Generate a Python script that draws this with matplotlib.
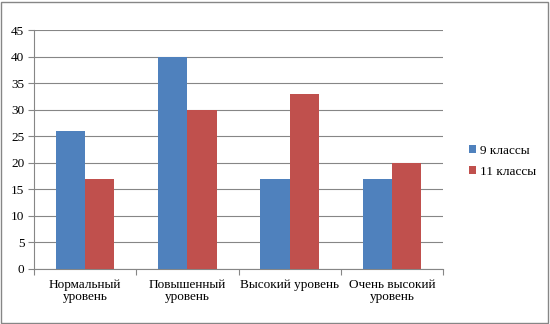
import matplotlib.pyplot as plt
import numpy as np
from matplotlib.patches import Rectangle

plt.rcParams['font.family'] = ['Liberation Serif', 'DejaVu Serif']

categories = ["Нормальный\nуровень", "Повышенный\nуровень", "Высокий уровень", "Очень высокий\nуровень"]
grade9 = [26, 40, 17, 17]
grade11 = [17, 30, 33, 20]
series_names = ["9 классы", "11 классы"]

blue = "#4F81BD"
red = "#C0504D"
grid_col = "#868686"

fig = plt.figure(figsize=(5.5, 3.24), dpi=100)
ax = fig.add_axes([0.0618, 0.1698, 0.7437, 0.7376])

x = np.arange(len(categories))
w = 0.285
b1 = ax.bar(x - w/2, grade9, w, color=blue, label=series_names[0], zorder=3)
b2 = ax.bar(x + w/2, grade11, w, color=red, label=series_names[1], zorder=3)

ax.set_xlim(-0.5, len(categories) - 0.5)
ax.set_ylim(0, 45)
ax.set_yticks(range(0, 46, 5))
ax.yaxis.grid(True, color=grid_col, linewidth=0.8, zorder=0)
ax.set_axisbelow(True)

ax.set_xticks(x)
ax.set_xticklabels(categories, fontsize=9.5, linespacing=1.05)
ax.set_xticks(np.arange(-0.5, len(categories)), minor=True)
ax.tick_params(axis='x', which='major', length=0, pad=7)
ax.tick_params(axis='x', which='minor', length=4, color=grid_col, width=0.8)
ax.tick_params(axis='y', length=4, color=grid_col, width=0.8, labelsize=9.5, pad=3)

for s in ['top', 'right']:
    ax.spines[s].set_visible(False)
for s in ['left', 'bottom']:
    ax.spines[s].set_color(grid_col)
    ax.spines[s].set_linewidth(0.8)

ax.legend(loc='center left', bbox_to_anchor=(1.05, 0.45), frameon=False,
          fontsize=9.5, handlelength=0.55, handleheight=0.55, handletextpad=0.3,
          labelspacing=0.7, borderaxespad=0)

fig.patches.append(Rectangle((0.002, 0.004), 0.994, 0.99, transform=fig.transFigure,
                             fill=False, edgecolor="#868686", linewidth=1.0))

fig.savefig("out.png", dpi=100)
